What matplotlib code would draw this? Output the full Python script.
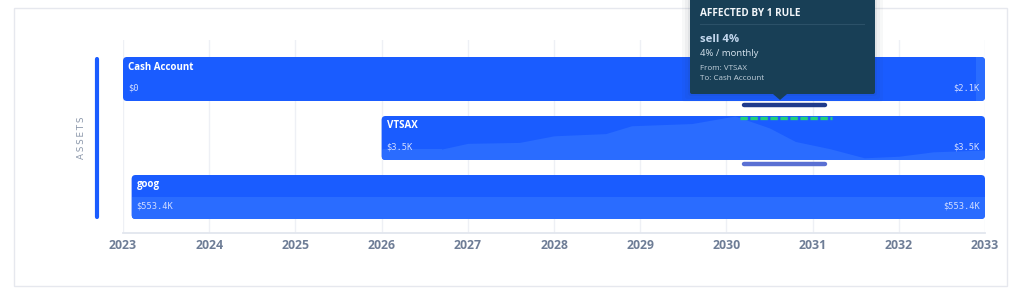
import numpy as np
import matplotlib.pyplot as plt
from matplotlib.patches import FancyBboxPatch, Polygon, Rectangle
from matplotlib.transforms import IdentityTransform

# accounts shown as timeline bars
accounts = ["Cash Account", "VTSAX", "goog"]
start_year = [2023.0, 2026.0, 2023.1]
end_year = [2033.0, 2033.0, 2033.0]
start_label = ["$0", "$3.5K", "$553.4K"]
end_label = ["$2.1K", "$3.5K", "$553.4K"]

# balance history drawn inside the bars ($K)
cash_years = [2023.0, 2032.9, 2032.9, 2033.0]
cash_values = [0.0, 0.0, 2.1, 2.1]
cash_max = 2.1
vtsax_years = [2026.0, 2026.7, 2027.0, 2027.6, 2028.0, 2028.6, 2028.9, 2029.6,
               2030.1, 2030.5, 2030.8, 2031.2, 2031.6, 2032.0, 2032.4, 2033.0]
vtsax_values = [3.5, 3.5, 5.3, 5.6, 7.7, 8.4, 10.9, 11.6,
                14.0, 10.2, 5.9, 3.6, 0.7, 1.2, 2.6, 3.2]
vtsax_max = 14.0
goog_years = [2023.1, 2033.0]
goog_values = [553.4, 553.4]
goog_max = 1106.8

rule_start, rule_end = 2030.2, 2031.2
years = list(range(2023, 2034))

BLUE = "#1a5cff"
AREA = "#2a6cff"
W, H = 1024, 298

fig = plt.figure(figsize=(W / 100, H / 100), dpi=100)
fig.patch.set_facecolor("white")

def px(x, y):
    return x / W, 1 - y / H

# card
fig.add_artist(Rectangle(px(14, 286), 993 / W, 278 / H, transform=fig.transFigure,
                         fc="white", ec="#e6e8ee", lw=1.0, zorder=0))

ax = fig.add_axes([123 / W, 1 - 233 / H, 862 / W, 193 / H])
ax.set_xlim(2023, 2033)
row_px = 59.0
yr_px = 86.2
ax.set_ylim((233 - 79) / row_px, (40 - 79) / row_px)
ax.patch.set_alpha(0)
for s in ["top", "left", "right"]:
    ax.spines[s].set_visible(False)
ax.spines["bottom"].set_color("#e2e6ee")
ax.spines["bottom"].set_linewidth(1.3)
ax.set_yticks([])
ax.set_xticks(years)
ax.set_xticklabels([str(y) for y in years], fontsize=8.8, fontweight="bold",
                   color="#6e7d96", family="Open Sans")
ax.tick_params(axis="x", length=0, pad=4.5)
ax.grid(axis="x", color="#eef0f5", lw=1, zorder=0)
ax.set_axisbelow(True)

h = 44 / row_px
r = 4 / yr_px
asp = (4 / row_px) / r

bars = []
for i, name in enumerate(accounts):
    x0, x1 = start_year[i], end_year[i]
    bar = FancyBboxPatch((x0, i - h / 2), x1 - x0, h,
                         boxstyle=f"round,pad=0,rounding_size={r}",
                         mutation_aspect=asp, fc=BLUE, ec="none", zorder=2)
    ax.add_patch(bar)
    bars.append(bar)

# balance areas clipped to bars
for i, (xs, vs, vmax) in [(0, (cash_years, cash_values, cash_max)),
                          (1, (vtsax_years, vtsax_values, vtsax_max)),
                          (2, (goog_years, goog_values, goog_max))]:
    base = i + h / 2
    top = base - np.array(vs) / vmax * h
    poly = ax.fill_between(xs, top, base, color=AREA, lw=0, zorder=3)
    poly.set_clip_path(bars[i])

for i, name in enumerate(accounts):
    x0, x1 = start_year[i], end_year[i]
    ytop = i - h / 2
    ax.text(x0 + 5 / yr_px, ytop + 10 / row_px, name, color="white", fontsize=7,
            fontweight="bold", family="Open Sans", va="center", ha="left", zorder=5)
    ax.text(x0 + 5 / yr_px, ytop + 31 / row_px, start_label[i], color="#d2ddff",
            fontsize=6.3, family="DejaVu Sans Mono", va="center", ha="left", zorder=5)
    ax.text(x1 - 5 / yr_px, ytop + 31 / row_px, end_label[i], color="#d2ddff",
            fontsize=6.3, family="DejaVu Sans Mono", va="center", ha="right", zorder=5)

# group marker on the left
xl = 2023 - 26 / yr_px
ax.plot([xl, xl], [-h / 2 + 2 / row_px, len(accounts) - 1 + h / 2 - 2 / row_px],
        color=BLUE, lw=3, solid_capstyle="round", clip_on=False, zorder=4)
ax.text(2023 - 42 / yr_px, 1, "A\u2009S\u2009S\u2009E\u2009T\u2009S", rotation=90,
        color="#8a96a9", fontsize=6.3, va="center", ha="center", clip_on=False)

# rule indicators
ax.plot([rule_start, rule_end - 0.06], [0.44, 0.44], color="#1f3b8c", lw=3.2,
        solid_capstyle="round", zorder=4)
ax.plot([rule_start - 0.04, rule_end + 0.03], [0.665, 0.665], color="#22d07c", lw=2.4,
        dashes=(2.2, 0.8), dash_capstyle="butt", zorder=6)
ax.plot([rule_start, rule_end - 0.06], [1.44, 1.44], color="#5a70d3", lw=3.2,
        solid_capstyle="round", zorder=4)

# tooltip
idt = IdentityTransform()
for k, a in [(8, 0.03), (5, 0.04), (2, 0.06)]:
    fig.add_artist(FancyBboxPatch((690 - k, H - 94 - k), 185 + 2 * k, 120,
                                  boxstyle="round,pad=0,rounding_size=3",
                                  transform=idt, fc="#1d2a3a", ec="none", alpha=a, zorder=9))
fig.add_artist(FancyBboxPatch((690, H - 94), 185, 110, boxstyle="round,pad=0,rounding_size=2",
                              transform=idt, fc="#183f56", ec="none", zorder=10))
fig.add_artist(Polygon([(773, H - 94), (787, H - 94), (780, H - 100)], closed=True,
                       transform=idt, fc="#183f56", ec="none", zorder=10))
fig.add_artist(plt.Line2D([700 / W, 864 / W], [1 - 24 / H] * 2, transform=fig.transFigure,
                          color="#2b5168", lw=0.8, zorder=11))
tip = [("AFFECTED BY 1 RULE", 14, 7.2, "bold", "#f2f6fa", "Open Sans"),
       ("sell 4%", 40, 8.2, "bold", "#c4d8ee", "Open Sans"),
       ("4% / monthly", 53, 6.8, "normal", "#d6e3ee", "Open Sans"),
       ("From: VTSAX", 68, 5.8, "normal", "#c3d1dc", "Open Sans"),
       ("To: Cash Account", 78, 5.8, "normal", "#c3d1dc", "Open Sans")]
for txt, y, fs, fw, col, fam in tip:
    fig.text(*px(700, y), txt, fontsize=fs, fontweight=fw, color=col, family=fam,
             va="center", ha="left", zorder=12)

fig.savefig("out.png", dpi=100)
